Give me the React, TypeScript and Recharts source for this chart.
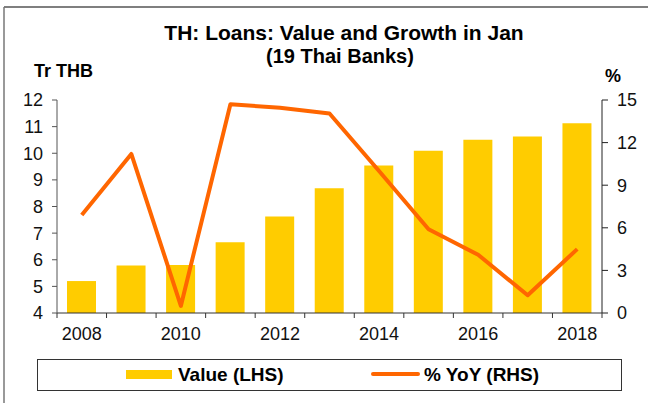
import { Bar, ComposedChart, Line, XAxis, YAxis } from "recharts";

const FONT = "'Liberation Sans', Arial, sans-serif";
const BAR_COLOR = "#FFCC00";
const LINE_COLOR = "#FF6600";

// Jan of each year, 19 Thai banks
const years = ["2008", "2009", "2010", "2011", "2012", "2013", "2014", "2015", "2016", "2017", "2018"];
// loans outstanding, Tr THB (left axis)
const loanValue = [5.2, 5.78, 5.8, 6.66, 7.62, 8.69, 9.54, 10.09, 10.51, 10.63, 11.13];
// growth, % YoY (right axis)
const yoyGrowth = [6.9, 11.2, 0.5, 14.7, 14.45, 14.05, 10.0, 5.9, 4.1, 1.25, 4.5];

const leftTicks = [4, 5, 6, 7, 8, 9, 10, 11, 12];
const rightTicks = [0, 3, 6, 9, 12, 15];

const data = years.map((year, i) => ({
  year,
  value: loanValue[i],
  yoy: yoyGrowth[i],
}));

type YearTickProps = {
  x?: number;
  y?: number;
  index?: number;
  payload?: { value: string; offset?: number };
};

/** Excel style: tick marks between categories, labels on every other year. */
function YearTick({ x, y, index, payload }: YearTickProps) {
  if (x === undefined || y === undefined || index === undefined || !payload) return null;
  const half = payload.offset ?? 24.8;
  const isLast = index === years.length - 1;
  return (
    <g>
      <line x1={x - half} x2={x - half} y1={y} y2={y + 5} stroke="#333" />
      {isLast ? <line x1={x + half} x2={x + half} y1={y} y2={y + 5} stroke="#333" /> : null}
      {index % 2 === 0 ? (
        <text x={x} y={y + 27} textAnchor="middle" fontSize={18} fontFamily={FONT} fill="#111">
          {payload.value}
        </text>
      ) : null}
    </g>
  );
}

export default function App() {
  return (
    <div
      style={{
        position: "absolute",
        left: 0,
        top: 0,
        width: 648,
        height: 403,
        background: "#fff",
        fontFamily: FONT,
      }}
    >
      <ComposedChart
        width={648}
        height={403}
        data={data}
        margin={{ top: 100, right: 0, bottom: 60, left: 0 }}
      >
        <XAxis
          dataKey="year"
          height={30}
          interval={0}
          tickLine={false}
          tickSize={0}
          tickMargin={0}
          axisLine={{ stroke: "#333" }}
          tick={(props) => <YearTick {...props} />}
        />
        <YAxis
          yAxisId="left"
          orientation="left"
          width={57}
          domain={[4, 12]}
          ticks={leftTicks}
          interval={0}
          tickSize={5}
          tickMargin={9}
          axisLine={{ stroke: "#555" }}
          tickLine={{ stroke: "#555" }}
          tick={{ fontSize: 18, fill: "#111", fontFamily: FONT }}
        />
        <YAxis
          yAxisId="right"
          orientation="right"
          width={46}
          domain={[0, 15]}
          ticks={rightTicks}
          interval={0}
          tickSize={6}
          tickMargin={9}
          axisLine={{ stroke: "#222" }}
          tickLine={{ stroke: "#222" }}
          tick={{ fontSize: 18, fill: "#111", fontFamily: FONT }}
        />
        <Bar
          yAxisId="left"
          dataKey="value"
          name="Value (LHS)"
          fill={BAR_COLOR}
          barSize={29}
          isAnimationActive={false}
        />
        <Line
          yAxisId="right"
          dataKey="yoy"
          name="% YoY (RHS)"
          type="linear"
          stroke={LINE_COLOR}
          strokeWidth={4}
          strokeLinejoin="round"
          dot={false}
          isAnimationActive={false}
        />
      </ComposedChart>

      <svg
        width={648}
        height={403}
        style={{ position: "absolute", left: 0, top: 0, pointerEvents: "none" }}
      >
        {/* outer frame */}
        <line x1={4} x2={648} y1={7} y2={7} stroke="#555" strokeWidth={1.5} />
        <line x1={4} x2={4} y1={7} y2={403} stroke="#777" strokeWidth={1.5} />

        <text x={344} y={40} textAnchor="middle" fontSize={21} fontWeight={700} fontFamily={FONT} fill="#000">
          TH: Loans: Value and Growth in Jan
        </text>
        <text x={340} y={63} textAnchor="middle" fontSize={20} fontWeight={700} fontFamily={FONT} fill="#000">
          (19 Thai Banks)
        </text>
        <text x={34} y={77} fontSize={18} fontWeight={700} fontFamily={FONT} fill="#000">
          Tr THB
        </text>
        <text x={605} y={82} fontSize={18} fontWeight={700} fontFamily={FONT} fill="#000">
          %
        </text>

        {/* legend */}
        <rect x={37.5} y={359.5} width={584} height={31} fill="#fff" stroke="#333" />
        <rect x={126} y={370} width={46} height={9} fill={BAR_COLOR} />
        <text x={178} y={381} fontSize={19} fontWeight={700} fontFamily={FONT} fill="#000">
          Value (LHS)
        </text>
        <line x1={373} x2={418} y1={374} y2={374} stroke={LINE_COLOR} strokeWidth={4} strokeLinecap="round" />
        <text x={424} y={381} fontSize={19} fontWeight={700} fontFamily={FONT} fill="#000">
          % YoY (RHS)
        </text>
      </svg>
    </div>
  );
}
